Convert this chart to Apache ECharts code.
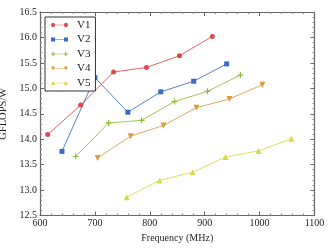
<!DOCTYPE html>
<html>
<head>
<meta charset="utf-8">
<script src="https://cdn.jsdelivr.net/npm/echarts@6/dist/echarts.min.js"></script>
<style>html,body{margin:0;padding:0;background:#fff}#c{width:332px;height:249px}</style>
</head>
<body>
<div id="c"></div>
<script>
var seriesNames = ['V1', 'V2', 'V3', 'V4', 'V5'];
var v1Freq = [614, 674, 734, 794, 854, 914];
var v1Eff  = [14.09, 14.67, 15.32, 15.41, 15.64, 16.02];
var v2Freq = [640, 700, 760, 820, 880, 940];
var v2Eff  = [13.76, 15.21, 14.53, 14.93, 15.14, 15.48];
var v3Freq = [665, 725, 785, 845, 905, 965];
var v3Eff  = [13.66, 14.32, 14.37, 14.74, 14.94, 15.26];
var v4Freq = [705, 765, 825, 885, 945, 1005];
var v4Eff  = [13.63, 14.06, 14.27, 14.62, 14.79, 15.07];
var v5Freq = [758, 818, 878, 938, 998, 1058];
var v5Eff  = [12.86, 13.19, 13.35, 13.65, 13.77, 14.01];
var xTicks = [600, 700, 800, 900, 1000, 1100];
var yTicks = [12.5, 13.0, 13.5, 14.0, 14.5, 15.0, 15.5, 16.0, 16.5];

var colors = ['#d84a4f', '#3c6bbf', '#90bb3a', '#dc9a3e', '#d6d948'];
var FONT = 'Liberation Serif';

var plusPath = 'path://M4,0 L6,0 L6,4 L10,4 L10,6 L6,6 L6,10 L4,10 L4,6 L0,6 L0,4 L4,4 Z';
var downTri = 'path://M0,0 L10,0 L5,9 Z';
var symbols = ['circle', 'rect', plusPath, downTri, 'triangle'];
var symSizes = [5, 5, 6, 6, 6];

// legend icons: line with marker at both ends (box 170x50)
var lineRect = 'M15,23 L155,23 L155,27 L15,27 Z ';
function circ(cx, cy, r) {
  var s = '';
  for (var k = 0; k < 16; k++) {
    var a = k / 16 * Math.PI * 2;
    s += (k === 0 ? 'M' : 'L') + (cx + r * Math.cos(a)).toFixed(2) + ',' + (cy + r * Math.sin(a)).toFixed(2) + ' ';
  }
  return s + 'Z ';
}
function sq(cx, cy, h) { return 'M' + (cx - h) + ',' + (cy - h) + ' L' + (cx + h) + ',' + (cy - h) + ' L' + (cx + h) + ',' + (cy + h) + ' L' + (cx - h) + ',' + (cy + h) + ' Z '; }
function plus(cx, cy, h, t) { return 'M' + (cx - t) + ',' + (cy - h) + ' L' + (cx + t) + ',' + (cy - h) + ' L' + (cx + t) + ',' + (cy - t) + ' L' + (cx + h) + ',' + (cy - t) + ' L' + (cx + h) + ',' + (cy + t) + ' L' + (cx + t) + ',' + (cy + t) + ' L' + (cx + t) + ',' + (cy + h) + ' L' + (cx - t) + ',' + (cy + h) + ' L' + (cx - t) + ',' + (cy + t) + ' L' + (cx - h) + ',' + (cy + t) + ' L' + (cx - h) + ',' + (cy - t) + ' L' + (cx - t) + ',' + (cy - t) + ' Z '; }
function tdn(cx, cy, h) { return 'M' + (cx - h) + ',' + (cy - h) + ' L' + (cx + h) + ',' + (cy - h) + ' L' + cx + ',' + (cy + h) + ' Z '; }
function tup(cx, cy, h) { return 'M' + cx + ',' + (cy - h) + ' L' + (cx + h) + ',' + (cy + h) + ' L' + (cx - h) + ',' + (cy + h) + ' Z '; }
var legendIcons = [
  'path://' + lineRect + circ(22, 25, 20) + circ(148, 25, 20),
  'path://' + lineRect + sq(22, 25, 20) + sq(148, 25, 20),
  'path://' + lineRect + plus(22, 25, 22, 5) + plus(148, 25, 22, 5),
  'path://' + lineRect + tdn(22, 25, 20) + tdn(148, 25, 20),
  'path://' + lineRect + tup(22, 25, 20) + tup(148, 25, 20)
];

var freqs = [v1Freq, v2Freq, v3Freq, v4Freq, v5Freq];
var effs = [v1Eff, v2Eff, v3Eff, v4Eff, v5Eff];

var series = seriesNames.map(function (n, i) {
  return {
    name: n,
    type: 'line',
    xAxisIndex: 0,
    yAxisIndex: 0,
    data: freqs[i].map(function (f, j) { return [f, effs[i][j]]; }),
    symbol: symbols[i],
    symbolSize: symSizes[i],
    showSymbol: true,
    color: colors[i],
    lineStyle: { width: 1, color: colors[i], opacity: 0.85 },
    itemStyle: { color: colors[i] },
    animation: false
  };
});

var axisLineStyle = { color: '#666', width: 1.2 };
function mkX(pos, showLabel) {
  return {
    type: 'value', position: pos, min: xTicks[0], max: xTicks[xTicks.length - 1], interval: 100,
    axisLine: { show: true, onZero: false, lineStyle: axisLineStyle },
    axisTick: { show: true, inside: true, length: 4, lineStyle: { color: '#666' } },
    minorTick: { show: true, splitNumber: 5, length: 2, lineStyle: { color: '#888' } },
    splitLine: { show: false },
    axisLabel: { show: showLabel, color: '#222', fontFamily: FONT, fontSize: 10, margin: 3,
      formatter: function (v) { return String(v); } },
    name: showLabel ? 'Frequency (MHz)' : '',
    nameLocation: 'middle', nameGap: 18,
    nameTextStyle: { color: '#222', fontFamily: FONT, fontSize: 10 }
  };
}
function mkY(pos, showLabel) {
  return {
    type: 'value', position: pos, min: yTicks[0], max: yTicks[yTicks.length - 1], interval: 0.5,
    axisLine: { show: true, onZero: false, lineStyle: axisLineStyle },
    axisTick: { show: true, inside: true, length: 4, lineStyle: { color: '#666' } },
    minorTick: { show: true, splitNumber: 5, length: 2, lineStyle: { color: '#888' } },
    splitLine: { show: false },
    axisLabel: { show: showLabel, color: '#222', fontFamily: FONT, fontSize: 10, margin: 3,
      formatter: function (v) { return v.toFixed(1); } },
    name: showLabel ? 'GFLOPS/W' : '',
    nameLocation: 'middle', nameGap: 27,
    nameTextStyle: { color: '#222', fontFamily: FONT, fontSize: 10.5 }
  };
}

var chart = echarts.init(document.getElementById('c'), null, { renderer: 'canvas' });
chart.setOption({
  animation: false,
  backgroundColor: '#fff',
  grid: { left: 40, right: 17.5, top: 12, bottom: 33.5, containLabel: false, outerBoundsMode: 'none' },
  xAxis: [mkX('bottom', true), mkX('top', false)],
  yAxis: [mkY('left', true), mkY('right', false)],
  legend: {
    orient: 'vertical', left: 45, top: 17,
    backgroundColor: '#fff', borderColor: '#333', borderWidth: 1, borderRadius: 0,
    padding: [2, 5, 2, 6],
    itemGap: 2.5, itemWidth: 17, itemHeight: 5,
    textStyle: { fontFamily: FONT, fontSize: 11, color: '#222', lineHeight: 12, padding: [0, 0, 0, 4] },
    data: seriesNames.map(function (n, i) { return { name: n, icon: legendIcons[i], itemStyle: { color: colors[i] } }; })
  },
  series: series
});
</script>
</body>
</html>
